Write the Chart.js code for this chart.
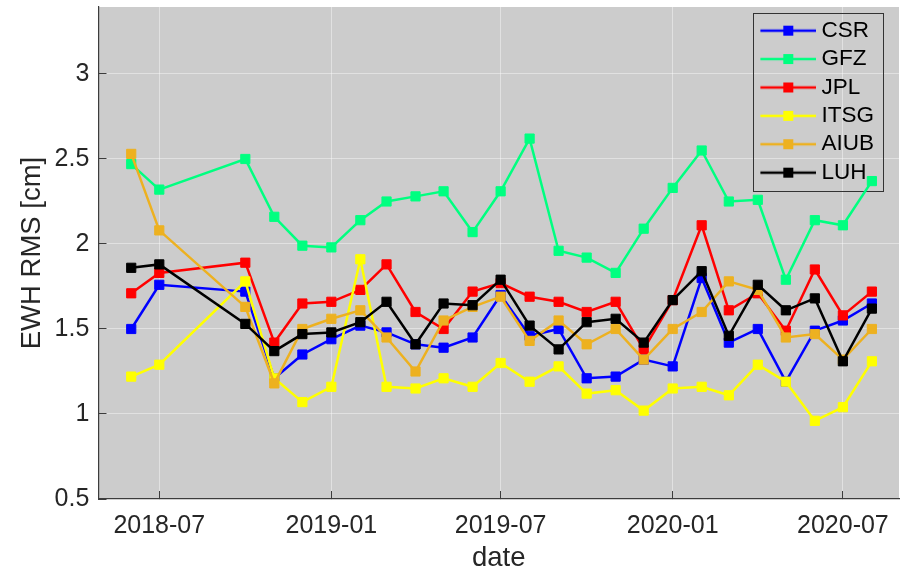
<!DOCTYPE html>
<html>
<head>
<meta charset="utf-8">
<script src="https://cdn.jsdelivr.net/npm/chart.js@4.4.1/dist/chart.umd.min.js"></script>
<style>
	body { margin: 0; background: #ffffff; }
	canvas { display: block; }
</style>
</head>
<body>
<canvas id="canvaRMS" width="901" height="572"></canvas>
<script>
//main Datos
//* Fechas de cada solución mensual
const fechas = [
	"2018-06-01", "2018-07-01", "2018-10-01", "2018-11-01", "2018-12-01",
	"2019-01-01", "2019-02-01", "2019-03-01", "2019-04-01", "2019-05-01",
	"2019-06-01", "2019-07-01", "2019-08-01", "2019-09-01", "2019-10-01",
	"2019-11-01", "2019-12-01", "2020-01-01", "2020-02-01", "2020-03-01",
	"2020-04-01", "2020-05-01", "2020-06-01", "2020-07-01", "2020-08-01",
];
//* EWH RMS [cm] por centro
const csr = [1.50, 1.76, 1.72, 1.21, 1.35, 1.44, 1.52, 1.48, 1.41, 1.39, 1.45, 1.70, 1.46, 1.50, 1.21, 1.22, 1.32, 1.28, 1.80, 1.42, 1.50, 1.19, 1.49, 1.55, 1.65];
const gfz = [2.47, 2.32, 2.50, 2.16, 1.99, 1.98, 2.14, 2.25, 2.28, 2.31, 2.07, 2.31, 2.62, 1.96, 1.92, 1.83, 2.09, 2.33, 2.55, 2.25, 2.26, 1.79, 2.14, 2.11, 2.37];
const jpl = [1.71, 1.83, 1.89, 1.42, 1.65, 1.66, 1.73, 1.88, 1.60, 1.50, 1.72, 1.77, 1.69, 1.66, 1.60, 1.66, 1.38, 1.67, 2.11, 1.61, 1.71, 1.49, 1.85, 1.58, 1.72];
const itsg = [1.22, 1.29, 1.78, 1.21, 1.07, 1.16, 1.91, 1.16, 1.15, 1.21, 1.16, 1.30, 1.19, 1.28, 1.12, 1.14, 1.02, 1.15, 1.16, 1.11, 1.29, 1.19, 0.96, 1.04, 1.31];
const aiub = [2.53, 2.08, 1.63, 1.18, 1.50, 1.56, 1.61, 1.45, 1.25, 1.55, 1.63, 1.69, 1.43, 1.55, 1.41, 1.50, 1.32, 1.50, 1.60, 1.78, 1.73, 1.45, 1.47, 1.32, 1.50];
const luh = [1.86, 1.88, 1.53, 1.37, 1.47, 1.48, 1.54, 1.66, 1.41, 1.65, 1.64, 1.79, 1.52, 1.38, 1.54, 1.56, 1.42, 1.67, 1.84, 1.46, 1.76, 1.61, 1.68, 1.31, 1.62];
//* Nombres y colores de las series
const nombres = ["CSR", "GFZ", "JPL", "ITSG", "AIUB", "LUH"];
const colores = ["#0000ff", "#00ff80", "#ff0000", "#ffff00", "#edb120", "#000000"];
//* Ticks de los ejes
const ticksY = [0.5, 1, 1.5, 2, 2.5, 3];
const ticksX = ["2018-07-01", "2019-01-01", "2019-07-01", "2020-01-01", "2020-07-01"];
const etiquetasX = ["2018-07", "2019-01", "2019-07", "2020-01", "2020-07"];
//* Límites de los ejes
const limitesX = ["2018-04-27", "2020-08-30"];
const limitesY = [0.5, 3.394];

//funcion Convierte "aaaa-mm-dd" a días desde 1970
const dia = (s) => Date.UTC(+s.slice(0, 4), +s.slice(5, 7) - 1, +s.slice(8, 10)) / 864e5;
const ticksXDias = ticksX.map(dia);

//funcion Icono de la leyenda: línea con marcador cuadrado
function iconoLeyenda(color) {
	const c = document.createElement("canvas");
	c.width = 56;
	c.height = 12;
	const g = c.getContext("2d");
	g.strokeStyle = color;
	g.lineWidth = 2.5;
	g.beginPath();
	g.moveTo(0, 6);
	g.lineTo(56, 6);
	g.stroke();
	g.fillStyle = color;
	g.fillRect(23, 1, 10, 10);
	return c;
}
const iconos = colores.map(iconoLeyenda);

//* Series a graficar
const series = [csr, gfz, jpl, itsg, aiub, luh];
const datasets = series.map((serie, k) => ({
	label: nombres[k],
	data: fechas.map((f, i) => ({ x: dia(f), y: serie[i] })),
	borderColor: colores[k],
	backgroundColor: colores[k],
	borderWidth: 2.5,
	pointStyle: "rect",
	pointRadius: 6.5,
	pointBorderWidth: 1,
	pointBorderColor: colores[k],
	pointBackgroundColor: colores[k],
	//* La última serie queda encima
	order: series.length - k,
}));

//funcion Ejes de ancho fijo y sin relleno extra
const fijaEje = (prop, valor) => (s) => {
	s[prop] = valor;
	s.paddingTop = 0;
	s.paddingBottom = 0;
	s.paddingLeft = 0;
	s.paddingRight = 0;
};

//* Fondo gris del área, posición y marco de la leyenda
const fondo = {
	id: "fondo",
	beforeDraw(chart) {
		const { ctx, chartArea: a } = chart;
		ctx.save();
		ctx.fillStyle = "#cccccc";
		ctx.fillRect(a.left, a.top, a.right - a.left, a.bottom - a.top);
		ctx.restore();
	},
	afterLayout(chart) {
		const lg = chart.legend;
		const a = chart.chartArea;
		lg.left = a.right - 138.6;
		lg.top = a.top + 6.5;
		lg.width = 124;
		lg.height = 220;
		lg.right = lg.left + lg.width;
		lg.bottom = lg.top + lg.height;
	},
	beforeDatasetsDraw(chart) {
		const { ctx } = chart;
		const lg = chart.legend;
		ctx.save();
		ctx.strokeStyle = "#333333";
		ctx.lineWidth = 1;
		ctx.strokeRect(Math.round(lg.left - 7) + 0.5, Math.round(lg.top - 1) + 0.5, 130, 178);
		ctx.restore();
	},
};

Chart.defaults.font.family = "'Liberation Sans', Arial, sans-serif";
Chart.defaults.color = "#262626";

const ctx = document.getElementById("canvaRMS");
const canvaRMS = new Chart(ctx, {
	type: "line",
	data: { datasets: datasets },
	plugins: [fondo],
	options: {
		responsive: false,
		devicePixelRatio: 1,
		animation: false,
		events: [],
		layout: { autoPadding: false, padding: { top: 7, right: 2, left: 0, bottom: 0 } },
		plugins: {
			tooltip: { enabled: false },
			legend: {
				position: "chartArea",
				align: "start",
				labels: {
					usePointStyle: true,
					pointStyleWidth: 44,
					padding: 5.9,
					color: "#000000",
					font: { size: 22.5 },
					sort: (a, b) => a.datasetIndex - b.datasetIndex,
					generateLabels: (chart) =>
						Chart.defaults.plugins.legend.labels.generateLabels(chart).map((l) => ({
							...l,
							pointStyle: iconos[l.datasetIndex],
						})),
				},
			},
		},
		scales: {
			x: {
				type: "linear",
				min: dia(limitesX[0]),
				max: dia(limitesX[1]),
				afterFit: fijaEje("height", 73),
				afterBuildTicks: (s) => { s.ticks = ticksXDias.map((v) => ({ value: v })); },
				grid: {
					color: "rgba(255,255,255,0.42)",
					tickColor: "#3c3c3c",
					tickLength: -8,
					lineWidth: 1,
				},
				border: { display: true, color: "#3c3c3c", width: 1.2 },
				ticks: {
					padding: 20.5,
					maxRotation: 0,
					autoSkip: false,
					font: { size: 25 },
					callback: (v) => etiquetasX[ticksXDias.indexOf(v)],
				},
				title: {
					display: true,
					text: "date",
					font: { size: 27.5, lineHeight: 1 },
					padding: { top: 0, bottom: 0 },
				},
			},
			y: {
				min: limitesY[0],
				max: limitesY[1],
				afterFit: fijaEje("width", 98.5),
				afterBuildTicks: (s) => { s.ticks = ticksY.map((v) => ({ value: v })); },
				grid: {
					color: "rgba(255,255,255,0.42)",
					tickColor: "#3c3c3c",
					tickLength: -8,
					lineWidth: 1,
				},
				border: { display: true, color: "#3c3c3c", width: 1.2 },
				ticks: {
					padding: 17.2,
					font: { size: 25 },
					callback: (v) => String(v),
				},
				title: {
					display: true,
					text: "EWH RMS [cm]",
					font: { size: 27.5, lineHeight: 1 },
					padding: { top: 19, bottom: 0 },
				},
			},
		},
	},
});
</script>
</body>
</html>
